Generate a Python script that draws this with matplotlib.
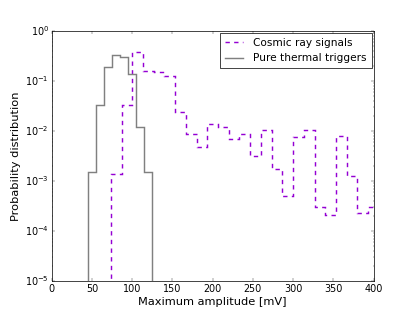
import matplotlib
matplotlib.use("Agg")
import matplotlib.pyplot as plt
import numpy as np

plt.style.use("classic")

# Pure thermal triggers: bin edges (mV) and probabilities
thermal_edges = [45, 55, 65, 75, 85, 95, 105, 115, 125]
thermal_values = [1.5e-3, 3.4e-2, 0.19, 0.33, 0.30, 0.14, 1.2e-2, 1.5e-3]

# Cosmic ray signals: bin edges (mV) and probabilities
cosmic_edges = [73.33, 86.67, 100.0, 113.33, 126.67, 140.0, 153.33, 166.67,
                180.0, 193.33, 206.67, 220.0, 233.33, 246.67, 260.0, 273.33,
                286.67, 300.0, 313.33, 326.67, 340.0, 353.33, 366.67, 380.0,
                393.33, 406.67]
cosmic_values = [1.4e-3, 3.4e-2, 0.38, 0.158, 0.155, 0.125, 2.4e-2, 8.6e-3,
                 4.8e-3, 1.36e-2, 1.2e-2, 7.0e-3, 8.6e-3, 3.2e-3, 1.07e-2,
                 1.75e-3, 5.1e-4, 7.5e-3, 1.03e-2, 3.0e-4, 2.1e-4, 7.8e-3,
                 1.24e-3, 2.3e-4, 3.0e-4]

fig = plt.figure(figsize=(415 / 52, 6), dpi=52)
ax = fig.add_subplot(111)

ax.stairs(cosmic_values, cosmic_edges, baseline=1e-9, color="#9400D3",
          linestyle="--", linewidth=2, label="Cosmic ray signals")
ax.stairs(thermal_values, thermal_edges, baseline=1e-9, color="#808080",
          linestyle="-", linewidth=2, label="Pure thermal triggers")

ax.set_yscale("log")
ax.set_xlim(0, 400)
ax.set_ylim(1e-5, 1)
ax.set_xlabel("Maximum amplitude [mV]", fontsize=15.8)
ax.set_ylabel("Probability distribution", fontsize=15.8)
ax.tick_params(axis="both", which="major", labelsize=13.3)
ax.legend(loc="upper right", fontsize=14.5, handlelength=1.7,
          handletextpad=1.0, borderaxespad=0.15, labelspacing=0.5,
          borderpad=0.5)

fig.savefig("out.png", dpi=52)
